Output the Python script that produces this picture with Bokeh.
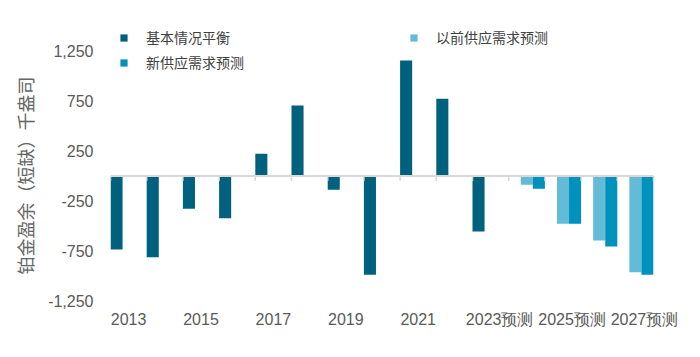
import math
from bokeh.plotting import figure
from bokeh.models import (ColumnDataSource, Range1d, FixedTicker, NumeralTickFormatter,
                          Span, Legend, LegendItem, Title)
from bokeh.embed import file_html
from bokeh.resources import INLINE

# ---------------- data ----------------
years = [str(y) for y in range(2013, 2028)]
base_balance = [-738, -815, -330, -424, 223, 708, -139, -992, 1160, 775, -557,
                None, None, None, None]
prev_forecast = [None] * 11 + [-88, -480, -648, -966]
new_forecast = [None] * 11 + [-128, -480, -708, -992]
x_labels = ["2013", "", "2015", "", "2017", "", "2019", "", "2021", "",
            "2023预测", "", "2025预测", "", "2027预测"]
y_ticks = [-1250, -750, -250, 250, 750, 1250]

series_names = ["基本情况平衡", "以前供应需求预测", "新供应需求预测"]
colors = ["#00617E", "#62BBD7", "#0091BD"]

# ---------------- figure ----------------
p = figure(width=700, height=357, output_backend="svg", toolbar_location=None,
           x_range=Range1d(0, len(years)), y_range=Range1d(-1270, 1561),
           min_border_left=110, min_border_right=47, min_border_top=20,
           min_border_bottom=55)
p.outline_line_color = None
p.xgrid.visible = False
p.ygrid.visible = False
p.background_fill_color = "white"
p.border_fill_color = "white"

def build(values, offset):
    xs, ys = [], []
    for i, v in enumerate(values):
        if v is not None:
            xs.append(i + offset)
            ys.append(v)
    return ColumnDataSource(dict(x=xs, top=ys))

w = 1 / 3
r1 = p.vbar(x="x", top="top", bottom=0, width=w, source=build(base_balance, w / 2),
            fill_color=colors[0], line_color=None)
r2 = p.vbar(x="x", top="top", bottom=0, width=w, source=build(prev_forecast, 1.5 * w),
            fill_color=colors[1], line_color=None)
r3 = p.vbar(x="x", top="top", bottom=0, width=w, source=build(new_forecast, 2.5 * w),
            fill_color=colors[2], line_color=None)

# zero line with category-boundary ticks
p.add_layout(Span(location=0, dimension="width", line_color="#D9D9D9", line_width=2))
bounds = list(range(len(years) + 1))
p.segment(x0=bounds, x1=bounds, y0=[0] * len(bounds), y1=[-50] * len(bounds),
          line_color="#D9D9D9", line_width=1.5)

# ---------------- axes ----------------
ticks, overrides = [], {}
for i, lab in enumerate(x_labels):
    if lab:
        t = i + 0.5 + (0.25 if "预测" in lab else 0.0)
        ticks.append(t)
        overrides[t] = lab
xa = p.xaxis[0]
xa.ticker = FixedTicker(ticks=ticks)
xa.major_label_overrides = overrides
xa.axis_line_color = None
xa.major_tick_line_color = None
xa.minor_tick_line_color = None
xa.major_label_standoff = 2
xa.major_label_text_font = "Liberation Sans"
xa.major_label_text_font_size = "16px"
xa.major_label_text_color = "#595959"

ya = p.yaxis[0]
ya.ticker = FixedTicker(ticks=y_ticks)
ya.formatter = NumeralTickFormatter(format="0,0")
ya.axis_line_color = None
ya.major_tick_line_color = None
ya.minor_tick_line_color = None
ya.major_label_standoff = 11
ya.major_label_text_font = "Liberation Sans"
ya.major_label_text_font_size = "16px"
ya.major_label_text_color = "#595959"

p.add_layout(Title(text="铂金盈余（短缺）千盎司", align="left", offset=28, standoff=16,
                   text_font="Noto Sans CJK SC", text_font_size="18px",
                   text_font_style="normal", text_color="#666666"), "left")

# ---------------- legends ----------------
def make_legend(items, loc):
    lg = Legend(items=items, location=loc, orientation="vertical",
                glyph_width=9, glyph_height=9, label_standoff=18, spacing=5,
                padding=0, margin=0, border_line_alpha=0, background_fill_alpha=0,
                label_text_font="Noto Sans CJK SC", label_text_font_size="14px",
                label_text_color="#404040", label_height=20)
    return lg

p.add_layout(make_legend([LegendItem(label=series_names[0], renderers=[r1]),
                          LegendItem(label=series_names[2], renderers=[r3])], (9, 230)))
p.add_layout(make_legend([LegendItem(label=series_names[1], renderers=[r2])], (299, 255)))

open("out.html", "w").write(file_html(p, INLINE))
